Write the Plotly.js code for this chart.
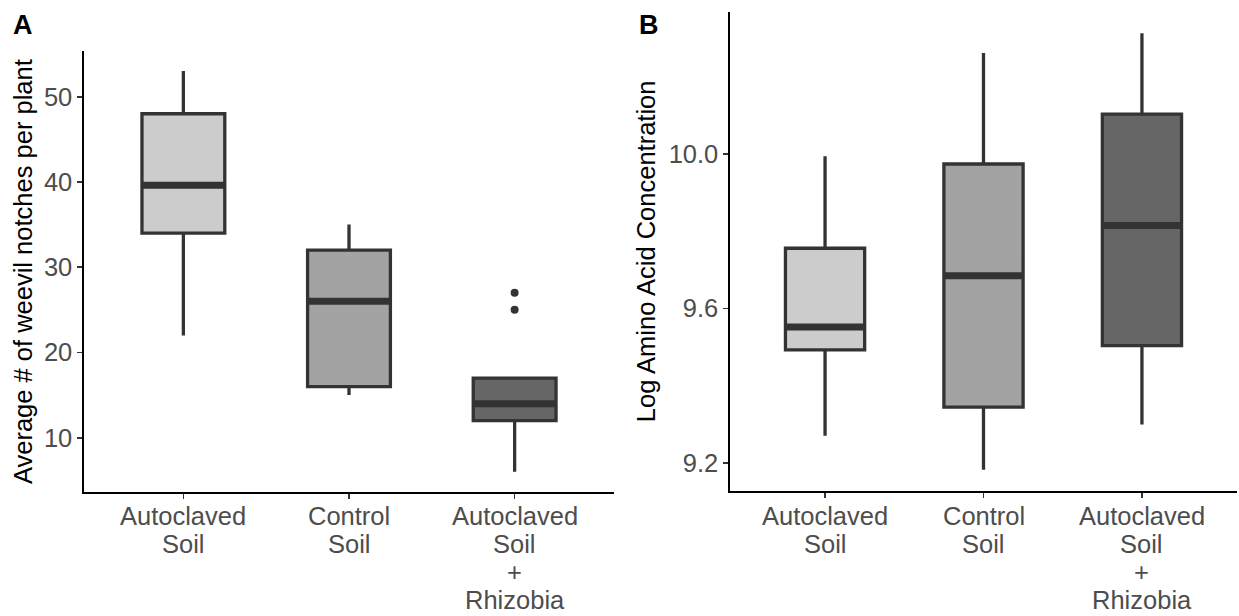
<!DOCTYPE html>
<html>
<head>
<meta charset="utf-8">
<script src="https://cdn.plot.ly/plotly-3.0.1.min.js"></script>
<style>
  html, body { margin: 0; padding: 0; background: #ffffff; }
  #chart { width: 1239px; height: 616px; }
</style>
</head>
<body>
<div id="chart"></div>
<script>
// ---- Data ----
const categories = [1, 2, 3];
const categoryLabels = [
  ["Autoclaved", "Soil"],
  ["Control", "Soil"],
  ["Autoclaved", "Soil", "+", "Rhizobia"]
];
const fillColors = ["#CCCCCC", "#A3A3A3", "#666666"];

// Panel A: Average # of weevil notches per plant
const notchLower  = [22, 15, 6];
const notchQ1     = [34, 16, 12];
const notchMedian = [39.6, 26, 14];
const notchQ3     = [48, 32, 17];
const notchUpper  = [53, 35, 17];
const notchOutlierX = [3, 3];
const notchOutlierY = [27, 25];

// Panel B: Log Amino Acid Concentration
const aaLower  = [9.271, 9.183, 9.300];
const aaQ1     = [9.493, 9.345, 9.504];
const aaMedian = [9.552, 9.685, 9.815];
const aaQ3     = [9.756, 9.974, 10.103];
const aaUpper  = [9.994, 10.261, 10.312];

// ---- Styling ----
const DARK = "#333333";
const BOX_W = 0.5;
const FONT = "Liberation Sans, Arial, sans-serif";
const TICK_SIZE = 25.5;

function boxTraces(lower, q1, med, q3, upper, xa, ya) {
  const traces = [];
  categories.forEach((c, i) => {
    traces.push({
      type: "box",
      x: [c],
      lowerfence: [lower[i]],
      q1: [q1[i]],
      median: [med[i]],
      q3: [q3[i]],
      upperfence: [upper[i]],
      width: BOX_W,
      whiskerwidth: 0,
      fillcolor: fillColors[i],
      line: { color: DARK, width: 3.3 },
      boxpoints: false,
      xaxis: xa, yaxis: ya,
      showlegend: false,
      hoverinfo: "skip"
    });
    // thicker median bar (ggplot fatten)
    traces.push({
      type: "scatter",
      mode: "lines",
      x: [c - BOX_W / 2, c + BOX_W / 2],
      y: [med[i], med[i]],
      line: { color: DARK, width: 7 },
      xaxis: xa, yaxis: ya,
      showlegend: false,
      hoverinfo: "skip"
    });
  });
  return traces;
}

const data = [
  ...boxTraces(notchLower, notchQ1, notchMedian, notchQ3, notchUpper, "x", "y"),
  {
    type: "scatter", mode: "markers",
    x: notchOutlierX, y: notchOutlierY,
    marker: { color: DARK, size: 8 },
    xaxis: "x", yaxis: "y", showlegend: false, hoverinfo: "skip"
  },
  ...boxTraces(aaLower, aaQ1, aaMedian, aaQ3, aaUpper, "x2", "y2")
];

const W = 1239, H = 616;
function px2x(p) { return p / W; }
function px2y(p) { return (H - p) / H; }

const xCommon = {
  type: "linear",
  range: [0.4, 3.6],
  tickvals: categories,
  showticklabels: false,
  showline: true, linecolor: "#000000", linewidth: 1.6,
  ticks: "outside", ticklen: 5, tickwidth: 1.6, tickcolor: DARK,
  showgrid: false, zeroline: false, fixedrange: true
};
const yCommon = {
  type: "linear",
  showline: true, linecolor: "#000000", linewidth: 1.6,
  ticks: "outside", ticklen: 5, tickwidth: 1.6, tickcolor: DARK,
  tickfont: { family: FONT, size: TICK_SIZE, color: "#4D4D4D" },
  showgrid: false, zeroline: false, fixedrange: true
};

// category labels as annotations (to match ggplot line spacing)
const annotations = [];
const LABEL_TOP = 516, LINE_STEP = 28;
["x", "x2"].forEach(xr => {
  categoryLabels.forEach((lines, i) => {
    lines.forEach((t, k) => {
      annotations.push({
        xref: xr, yref: "paper",
        x: categories[i], y: px2y(LABEL_TOP + LINE_STEP * k),
        xanchor: "center", yanchor: "middle",
        text: t, showarrow: false,
        font: { family: FONT, size: TICK_SIZE, color: "#4D4D4D" }
      });
    });
  });
});
annotations.push({
  xref: "paper", yref: "paper", x: px2x(11), y: px2y(25),
  xanchor: "left", yanchor: "middle", text: "<b>A</b>", showarrow: false,
  font: { family: FONT, size: 27, color: "#000000" }
});
annotations.push({
  xref: "paper", yref: "paper", x: px2x(637), y: px2y(25),
  xanchor: "left", yanchor: "middle", text: "<b>B</b>", showarrow: false,
  font: { family: FONT, size: 27, color: "#000000" }
});

const layout = {
  width: W, height: H,
  margin: { l: 0, r: 0, t: 0, b: 0 },
  paper_bgcolor: "#ffffff", plot_bgcolor: "#ffffff",
  showlegend: false,
  xaxis: Object.assign({}, xCommon, { domain: [px2x(84), px2x(614)], anchor: "y" }),
  yaxis: Object.assign({}, yCommon, {
    domain: [px2y(492.3), px2y(51)], anchor: "x",
    range: [3.6, 55.36],
    tickvals: [10, 20, 30, 40, 50],
    title: { text: "Average # of weevil notches per plant", font: { family: FONT, size: 25.5, color: "#000000" }, standoff: 4 }
  }),
  xaxis2: Object.assign({}, xCommon, { domain: [px2x(730), px2x(1237)], anchor: "y2" }),
  yaxis2: Object.assign({}, yCommon, {
    domain: [px2y(491), px2y(11.7)], anchor: "x2",
    range: [9.128, 10.368],
    tickvals: [9.2, 9.6, 10.0],
    tickformat: ".1f",
    title: { text: "Log Amino Acid Concentration", font: { family: FONT, size: 25.5, color: "#000000" }, standoff: 6 }
  }),
  annotations: annotations
};

Plotly.newPlot("chart", data, layout, { displayModeBar: false, staticPlot: true });
</script>
</body>
</html>
